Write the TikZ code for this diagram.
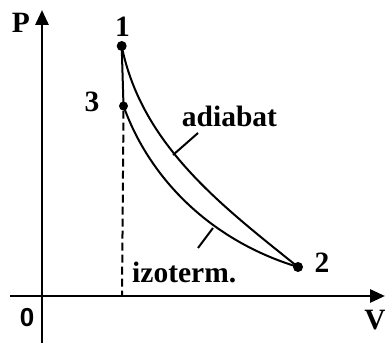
\documentclass[tikz,border=0pt]{standalone}
\usepackage{fontspec}
\setmainfont{Liberation Serif}
\newfontfamily\zerofont{Liberation Sans}
\usetikzlibrary{arrows.meta}

\begin{document}
\begin{tikzpicture}[x=1pt, y=1pt,
    every node/.style={font=\bfseries\fontsize{29.5}{31}\selectfont, inner sep=0pt},
    axis/.style={line width=2.8pt, -{Triangle[length=15pt, width=13pt]}},
    curve/.style={line width=2pt},
    dot/.style={circle, fill, inner sep=0pt, minimum size=10pt}]
    \useasboundingbox (0,0) rectangle (385,344);
    % axes
    \coordinate (ybot) at (42,1);
    \coordinate (ytip) at (42,334);
    \coordinate (xleft) at (10,48);
    \coordinate (xtip) at (385,48);
    \draw[axis] (ybot) -- (ytip);
    \draw[axis] (xleft) -- (xtip);
    \node[anchor=base] (P) at (21,311) {P};
    \node[anchor=base] (V) at (375,14) {V};
    \node[anchor=base, font=\zerofont\bfseries\fontsize{26}{28}\selectfont] (O) at (27,17) {0};
    % states
    \node[dot] (s1) at (121.7,298) {};
    \node[dot, minimum size=9pt] (s3) at (123.5,238) {};
    \node[dot] (s2) at (298,77) {};
    \node[anchor=base] (n1) at (122.5,307) {1};
    \node[anchor=base] (n3) at (92,232) {3};
    \node[anchor=base] (n2) at (322,71) {2};
    % processes
    \draw[curve] (s1.center) .. controls (141.7,198) and (223.6,137) .. (s2.center);
    \draw[curve] (s1.center) -- (s3.center);
    \draw[curve] (s3.center) .. controls (150,164) and (212,103) .. (s2.center);
    \coordinate (v3) at (122,48);
    \draw[line width=2pt, dash pattern=on 8pt off 4pt] (s3.south) -- (v3);
    % labels
    \node[anchor=base] (adlabel) at (229.5,217) {adiabat};
    \node[anchor=base west] (izlabel) at (132,61) {izoterm.};
    \coordinate (adtext) at (198,211);
    \coordinate (adcurve) at (173,189);
    \coordinate (iztext) at (198,96);
    \coordinate (izcurve) at (213,116);
    \draw[curve] (adtext) -- (adcurve);
    \draw[curve] (iztext) -- (izcurve);
\end{tikzpicture}
\end{document}
